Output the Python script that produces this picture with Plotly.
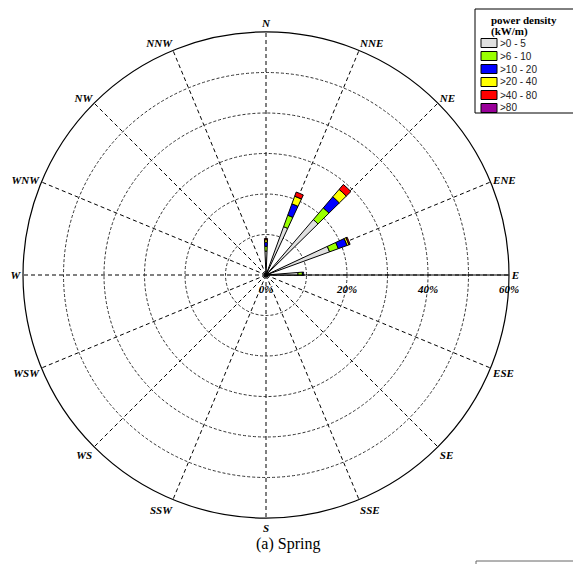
import plotly.graph_objects as go

W, H = 573, 564

# ---- data ----
dir_labels = ["N", "NNE", "NE", "ENE", "E", "ESE", "SE", "SSE",
              "S", "SSW", "WS", "WSW", "W", "WNW", "NW", "NNW"]
dir_angles = [0, 22.5, 45, 67.5, 90, 112.5, 135, 157.5,
              180, 202.5, 225, 247.5, 270, 292.5, 315, 337.5]

bar_theta = [0, 22.5, 43, 67.5, 88]          # directions with data
bin_names = [">0 - 5", ">6 - 10", ">10 - 20", ">20 - 40", ">40 - 80", ">80"]
bin_colors = ["#e0e0e0", "#99ff00", "#0000ff", "#ffff00", "#ff0000", "#990099"]
freq_0_5 = [5.9, 12.7, 18.0, 16.7, 7.9]
freq_6_10 = [1.2, 3.0, 3.8, 2.3, 1.1]
freq_10_20 = [1.0, 3.0, 3.6, 2.3, 0.3]
freq_20_40 = [0.6, 2.0, 2.4, 0.5, 0.0]
freq_40_80 = [0.3, 1.1, 1.6, 0.3, 0.0]
freq_80 = [0.0, 0.0, 0.0, 0.0, 0.0]
series = [freq_0_5, freq_6_10, freq_10_20, freq_20_40, freq_40_80, freq_80]

r_ticks = [0, 10, 20, 30, 40, 50, 60]
r_ticktext = ["0%", "", "20%", "", "40%", "", "60%"]


def px(x):
    return x / W


def py(y):
    return 1 - y / H


fig = go.Figure()
for name, col, vals in zip(bin_names, bin_colors, series):
    fig.add_trace(go.Barpolar(
        r=vals, theta=bar_theta, width=5, name=name,
        marker=dict(color=col, line=dict(color="black", width=1)),
        showlegend=False,
    ))

tick_font = dict(family="Liberation Serif", size=11, color="black",
                 weight="bold", style="italic")

cx, cy, R = 266, 275, 243
fig.update_layout(
    width=W, height=H,
    margin=dict(l=0, r=0, t=0, b=0),
    paper_bgcolor="white",
    showlegend=False,
    polar=dict(
        domain=dict(x=[px(cx - R), px(cx + R)], y=[py(cy + R), py(cy - R)]),
        bgcolor="white",
        barmode="stack",
        angularaxis=dict(
            rotation=90, direction="clockwise",
            tickmode="array", tickvals=dir_angles, ticktext=dir_labels,
            tickfont=tick_font, ticks="",
            showline=True, linecolor="black", linewidth=1.2,
            showgrid=True, gridcolor="black", gridwidth=1, griddash="4px,3px",
        ),
        radialaxis=dict(
            range=[0, 60], tickmode="array", tickvals=r_ticks, ticktext=r_ticktext,
            angle=0, tickangle=0, tickfont=tick_font,
            ticks="outside", ticklen=4, tickcolor="rgba(0,0,0,0)",
            showline=True, linecolor="black", linewidth=1.2,
            showgrid=True, gridcolor="#333333", gridwidth=1, griddash="3px,2px",
        ),
    ),
)

shapes = []
annotations = []
# legend box
shapes.append(dict(type="rect", xref="paper", yref="paper",
                   x0=px(475), x1=px(580), y0=py(113), y1=py(9),
                   line=dict(color="black", width=1), fillcolor="white", layer="above"))
annotations.append(dict(xref="paper", yref="paper", x=px(489), y=py(20),
                        xanchor="left", yanchor="middle", showarrow=False,
                        text="<b>power density</b>",
                        font=dict(family="Liberation Serif", size=11, color="black")))
annotations.append(dict(xref="paper", yref="paper", x=px(489), y=py(32),
                        xanchor="left", yanchor="middle", showarrow=False,
                        text="<b>(kW/m)</b>",
                        font=dict(family="Liberation Serif", size=11, color="black")))
item_y = [43, 56, 69, 82, 95, 108]
for yy, name, col in zip(item_y, bin_names, bin_colors):
    shapes.append(dict(type="rect", xref="paper", yref="paper",
                       x0=px(481), x1=px(497), y0=py(yy + 4.5), y1=py(yy - 4.5),
                       line=dict(color="black", width=1), fillcolor=col, layer="above"))
    annotations.append(dict(xref="paper", yref="paper", x=px(498), y=py(yy),
                            xanchor="left", yanchor="middle", showarrow=False,
                            text=name,
                            font=dict(family="Liberation Sans", size=10, color="#222222")))
# partial box at bottom right
shapes.append(dict(type="rect", xref="paper", yref="paper",
                   x0=px(476), x1=px(580), y0=py(575), y1=py(561),
                   line=dict(color="#666666", width=1), fillcolor="rgba(0,0,0,0)"))
# caption
annotations.append(dict(xref="paper", yref="paper", x=px(288), y=py(544),
                        xanchor="center", yanchor="middle", showarrow=False,
                        text="(a) Spring",
                        font=dict(family="Liberation Serif", size=16, color="black")))

fig.update_layout(shapes=shapes, annotations=annotations)
fig.write_html("out.html")
